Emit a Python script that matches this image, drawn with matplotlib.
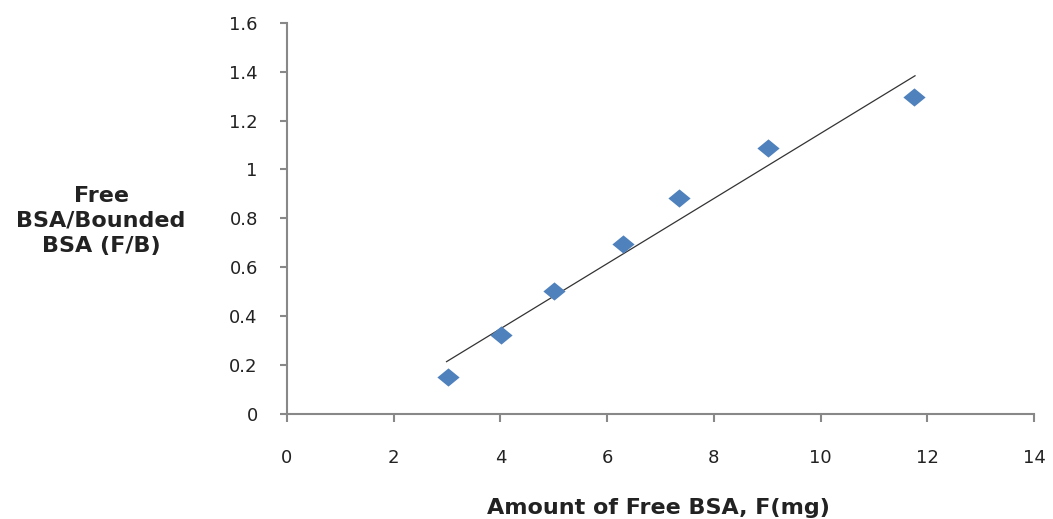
import matplotlib
matplotlib.use("Agg")
import matplotlib.pyplot as plt
from matplotlib.path import Path

free_bsa = [3.02, 4.01, 5.00, 6.29, 7.35, 9.02, 11.75]
ratio_fb = [0.152, 0.323, 0.503, 0.694, 0.884, 1.086, 1.295]
trend_x = [2.99, 11.77]
trend_y = [0.214, 1.383]
x_ticks = [0, 2, 4, 6, 8, 10, 12, 14]
y_ticks = [0, 0.2, 0.4, 0.6, 0.8, 1.0, 1.2, 1.4, 1.6]
y_tick_labels = ["0", "0.2", "0.4", "0.6", "0.8", "1", "1.2", "1.4", "1.6"]

plt.rcParams['font.family'] = ['DejaVu Sans']

fig = plt.figure(figsize=(10.53, 5.19), dpi=100)
ax = fig.add_axes([287/1053, 1-414/519, (1034-287)/1053, (414-22.7)/519])

diamond = Path([(-1, 0), (0, 0.82), (1, 0), (0, -0.82), (-1, 0)],
               [Path.MOVETO, Path.LINETO, Path.LINETO, Path.LINETO, Path.CLOSEPOLY])

ax.plot(trend_x, trend_y, color='#333333', lw=0.9, zorder=2)
ax.plot(free_bsa, ratio_fb, linestyle='none', marker=diamond, markersize=16,
        color='#4F81BD', markeredgewidth=0, zorder=3)

ax.set_xlim(0, 14)
ax.set_ylim(0, 1.6)
ax.set_xticks(x_ticks)
ax.set_xticklabels([str(t) for t in x_ticks])
ax.set_yticks(y_ticks)
ax.set_yticklabels(y_tick_labels)

for s in ['top', 'right']:
    ax.spines[s].set_visible(False)
for s in ['left', 'bottom']:
    ax.spines[s].set_color('#888888')
    ax.spines[s].set_linewidth(1.5)

ax.tick_params(axis='both', colors='#888888', width=1.5, labelcolor='#222222',
               labelsize=13)
ax.tick_params(axis='y', length=5, pad=16)
ax.tick_params(axis='x', length=6, pad=19)

fig.text(658/1053, 1-508/519, "Amount of Free BSA, F(mg)", ha='center', va='center',
         fontsize=16, fontweight='bold', color='#222222')
fig.text(101/1053, 1-221/519, "Free\nBSA/Bounded\nBSA (F/B)", ha='center', va='center',
         fontsize=16, fontweight='bold', color='#222222', linespacing=1.3)

fig.savefig("out.png", dpi=100)
